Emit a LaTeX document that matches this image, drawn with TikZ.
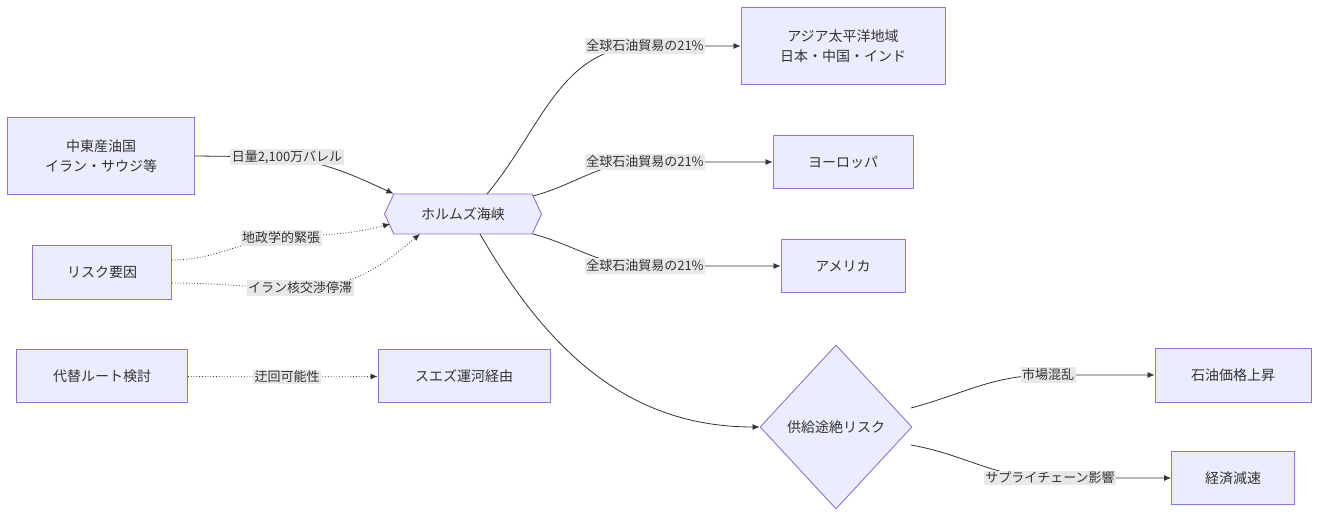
\documentclass[tikz,border=0pt]{standalone}
\usepackage{fontspec}
\setmainfont{Noto Sans CJK JP}
\usepackage{tikz}
\usetikzlibrary{shapes.geometric, shapes.symbols, arrows.meta}
\definecolor{boxfill}{HTML}{ECECFF}
\definecolor{boxline}{HTML}{9370DB}
\definecolor{ink}{HTML}{333333}
\definecolor{lblbg}{HTML}{E8E8E8}
\tikzset{
  box/.style={draw=boxline, fill=boxfill, text=ink, line width=0.9pt, align=center,
    font=\fontsize{14}{20}\selectfont, inner sep=0pt},
  lbl/.style={fill=lblbg, text=ink, font=\fontsize{13}{16}\selectfont, inner sep=1.5pt},
  link/.style={draw=ink, line width=0.8pt, -{Latex[length=7pt,width=6pt]}},
  dots/.style={link, dotted}
}
\begin{document}
\begin{tikzpicture}[x=1pt, y=-1pt]
  \useasboundingbox (0,0) rectangle (1319,518);

  % nodes
  \node[box, minimum width=187, minimum height=77] (src) at (101,156) {中東産油国\\イラン・サウジ等};
  \node[box, minimum width=139, minimum height=54] (risk) at (102,272) {リスク要因};
  \node[box, minimum width=171, minimum height=53] (alt) at (102,376) {代替ルート検討};
  \node[box, minimum width=172, minimum height=53] (suez) at (464,376) {スエズ運河経由};
  \node[box, signal, signal to=east and west, signal pointer angle=130,
        minimum width=157, minimum height=40] (hormuz) at (463,214) {ホルムズ海峡};
  \node[box, minimum width=204, minimum height=77] (asia) at (843,46) {アジア太平洋地域\\日本・中国・インド};
  \node[box, minimum width=140, minimum height=53] (eu) at (843,162) {ヨーロッパ};
  \node[box, minimum width=124, minimum height=53] (us) at (843,266) {アメリカ};
  \node[box, diamond, minimum width=152, minimum height=164] (cut) at (836,427) {供給途絶リスク};
  \node[box, minimum width=156, minimum height=54] (price) at (1233,375) {石油価格上昇};
  \node[box, minimum width=123, minimum height=53] (econ) at (1233,478) {経済減速};

  % label anchors
  \coordinate (l1) at (287,157);
  \coordinate (l2) at (281,238);
  \coordinate (l3) at (300,288);
  \coordinate (l4) at (287,377);
  \coordinate (l5) at (645,46);
  \coordinate (l6) at (645,162);
  \coordinate (l7) at (645,266);
  \coordinate (l8) at (1048,375);
  \coordinate (l9) at (1050,478);

  % connectors
  \draw[link] (src.east) -- (l1) to[out=-10,in=155] (hormuz.north west);
  \draw[dots] (risk.east |- 0,260) to[out=0,in=185] (l2) to[out=5,in=195] (390,224);
  \draw[dots] (risk.east |- 0,283) to[out=0,in=180] (l3) to[out=0,in=220] (420,234);
  \draw[dots] (alt) -- (l4) -- (suez);
  \draw[link] (487,194) to[out=50,in=180] (l5) -- (asia);
  \draw[link] (533,196) to[out=15,in=180] (l6) -- (eu);
  \draw[link] (533,234) to[out=-15,in=180] (l7) -- (us);
  \draw[link] (480,234) to[out=-60,in=180] (cut.west);
  \draw[link] (911,408) to[out=15,in=180] (l8) to[out=0,in=180] (price);
  \draw[link] (911,445) to[out=-10,in=180] (l9) -- (econ);

  % labels
  \node[lbl] at (l1) {日量2,100万バレル};
  \node[lbl] at (l2) {地政学的緊張};
  \node[lbl] at (l3) {イラン核交渉停滞};
  \node[lbl] at (l4) {迂回可能性};
  \node[lbl] at (l5) {全球石油貿易の21\%};
  \node[lbl] at (l6) {全球石油貿易の21\%};
  \node[lbl] at (l7) {全球石油貿易の21\%};
  \node[lbl] at (l8) {市場混乱};
  \node[lbl] at (l9) {サプライチェーン影響};
\end{tikzpicture}
\end{document}
